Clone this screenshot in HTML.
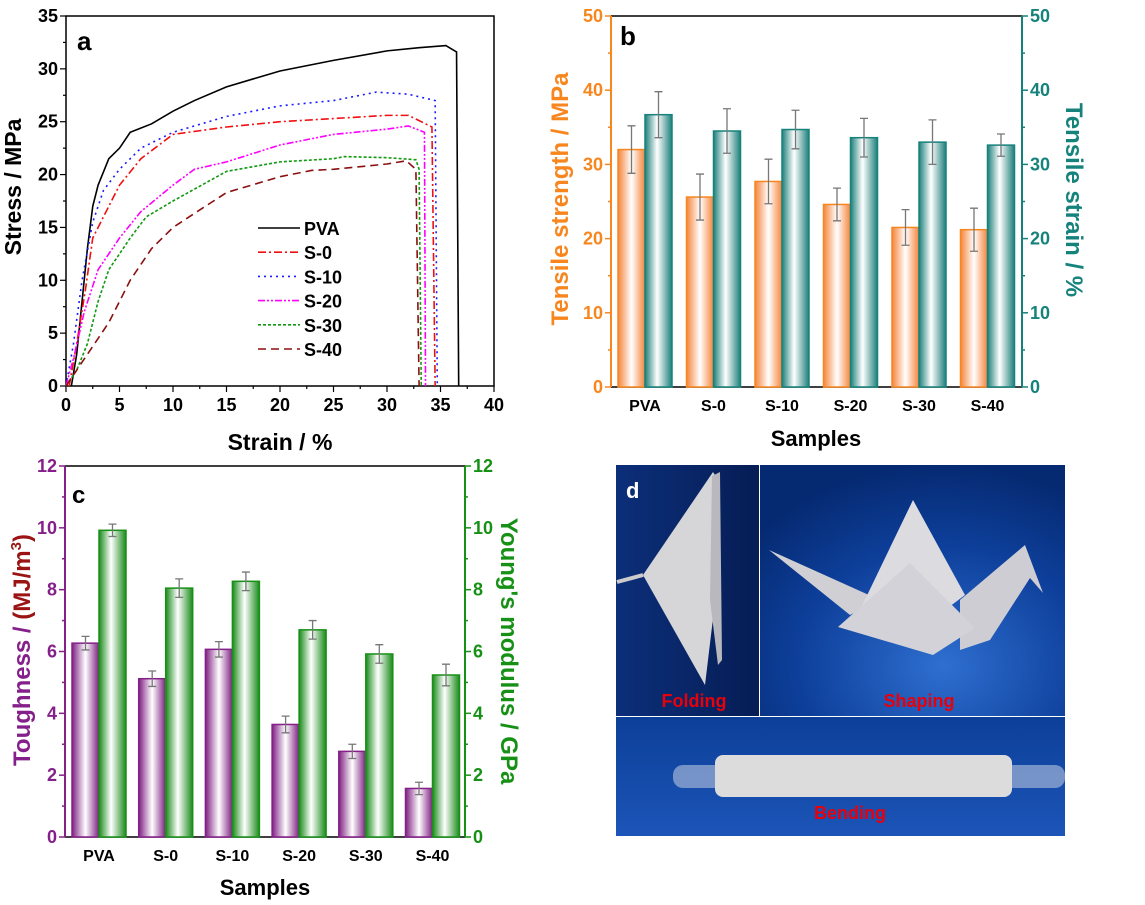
<!DOCTYPE html>
<html><head><meta charset="utf-8"><style>
html,body{margin:0;padding:0;background:#fff;}
svg{display:block;font-family:"Liberation Sans",Arial,sans-serif;}
</style></head><body>
<svg id="fig" width="1145" height="905" viewBox="0 0 1145 905" xmlns="http://www.w3.org/2000/svg">
<defs>
<linearGradient id="gOr" x1="0" x2="1" y1="0" y2="0"><stop offset="0" stop-color="#f5843a"/><stop offset="0.5" stop-color="#fff"/><stop offset="1" stop-color="#f5843a"/></linearGradient>
<linearGradient id="gTe" x1="0" x2="1" y1="0" y2="0"><stop offset="0" stop-color="#1d7f7a"/><stop offset="0.45" stop-color="#fff"/><stop offset="1" stop-color="#1d7f7a"/></linearGradient>
<linearGradient id="gPu" x1="0" x2="1" y1="0" y2="0"><stop offset="0" stop-color="#7e1f82"/><stop offset="0.5" stop-color="#fff"/><stop offset="1" stop-color="#7e1f82"/></linearGradient>
<linearGradient id="gGr" x1="0" x2="1" y1="0" y2="0"><stop offset="0" stop-color="#1a8a1a"/><stop offset="0.45" stop-color="#fff"/><stop offset="1" stop-color="#1a8a1a"/></linearGradient>
<radialGradient id="gBlue" cx="0.6" cy="0.8" r="0.8"><stop offset="0" stop-color="#2f6fd0"/><stop offset="0.6" stop-color="#0d3f9a"/><stop offset="1" stop-color="#062a72"/></radialGradient>
<linearGradient id="gBlue2" x1="0" x2="0" y1="0" y2="1"><stop offset="0" stop-color="#0c3f98"/><stop offset="1" stop-color="#1c55b8"/></linearGradient>
<linearGradient id="gFold" x1="0" x2="1" y1="0" y2="0"><stop offset="0" stop-color="#0c2f7a"/><stop offset="1" stop-color="#061d55"/></linearGradient>
</defs>
<g id="pa"></g>
<g id="pb"></g>
<g id="pc"></g>
<g id="pd">
  <rect x="616" y="465" width="143" height="251" fill="url(#gFold)"/>
  <polygon points="643,575 713,472 718,480 720,560 705,685" fill="#d6d6d8"/>
  <polygon points="712,476 720,472 722,660 718,665 710,600" fill="#b8b8be"/>
  <line x1="617" y1="582" x2="643" y2="575" stroke="#ccc" stroke-width="4"/>
  <rect x="760" y="465" width="305" height="251" fill="url(#gBlue)"/>
  <polygon points="769,550 880,600 850,615" fill="#cfcfd4"/>
  <polygon points="913,500 965,595 905,640 860,610" fill="#dcdce0"/>
  <polygon points="960,600 1025,545 1043,593 1030,578 990,640 960,650" fill="#cdcdd3"/>
  <polygon points="838,627 910,563 975,628 933,655" fill="#d2d2d8"/>
  <rect x="616" y="717" width="449" height="119" fill="url(#gBlue2)"/>
  <rect x="673" y="765" width="392" height="23" rx="10" fill="#9fb3d6" opacity="0.7"/>
  <rect x="715" y="755" width="297" height="42" rx="8" fill="#dcdcdc"/>
  <text x="626" y="498" font-size="22" font-weight="bold" fill="#fff">d</text>
  <text x="694" y="707" font-size="18" font-weight="bold" fill="#e8000a" text-anchor="middle">Folding</text>
  <text x="919" y="707" font-size="18" font-weight="bold" fill="#e8000a" text-anchor="middle">Shaping</text>
  <text x="850" y="819" font-size="18" font-weight="bold" fill="#e8000a" text-anchor="middle">Bending</text>
</g>
</svg>
<script>
// ---------- Panel a data ----------
const aSeriesNames = ["PVA","S-0","S-10","S-20","S-30","S-40"];
const aPVA  = [[0.5,0],[1,3],[1.5,8],[2,13],[2.5,17],[3,19],[4,21.5],[5,22.5],[6,24],[8,24.8],[10,26],[12,27],[15,28.3],[20,29.8],[25,30.8],[30,31.7],[33,32],[35.5,32.2],[36.5,31.6],[36.7,0]];
const aS0   = [[0.3,0],[1,4],[1.8,9],[2.5,14],[4,17],[5,19],[7,21.5],[10,23.8],[15,24.5],[20,25],[25,25.3],[30,25.6],[32,25.6],[34.2,24.5],[34.5,0]];
const aS10  = [[0,0],[0.7,4],[1.5,10],[2.5,15.5],[3.5,18.5],[5,20.5],[7,22.5],[10,24],[15,25.5],[20,26.5],[25,27],[29,27.8],[32,27.6],[34.5,27],[34.7,0]];
const aS20  = [[0,0],[0.8,3],[1.7,7],[3,11],[5,14],[7,16.5],[10,19],[12,20.5],[15,21.2],[20,22.8],[25,23.8],[30,24.3],[32,24.6],[33.5,24],[33.6,0]];
const aS30  = [[0,0],[1,1.5],[2,4],[3,8],[4,11],[6,14],[7.5,16],[10,17.5],[15,20.3],[20,21.2],[25,21.5],[26,21.7],[30,21.6],[32.7,21.4],[33,20.5],[33.2,0]];
const aS40  = [[0,0],[1,1.5],[2,3],[4,6],[6,10],[8,13],[10,15],[15,18.3],[20,19.8],[23,20.4],[25,20.5],[30,21],[31.8,21.3],[32.7,20.5],[33,0]];
const aXTicks = [0,5,10,15,20,25,30,35,40];
const aYTicks = [0,5,10,15,20,25,30,35];
// ---------- Panel b data ----------
const bCategories = ["PVA","S-0","S-10","S-20","S-30","S-40"];
const bStrength = [32,25.6,27.7,24.6,21.5,21.2];
const bStrengthErr = [3.2,3.1,3.0,2.2,2.4,2.9];
const bStrain = [36.7,34.5,34.7,33.6,33,32.6];
const bStrainErr = [3.1,3.0,2.6,2.6,3.0,1.5];
const bTicks = [0,10,20,30,40,50];
// ---------- Panel c data ----------
const cCategories = ["PVA","S-0","S-10","S-20","S-30","S-40"];
const cToughness = [6.27,5.12,6.07,3.64,2.77,1.57];
const cToughnessErr = [0.22,0.25,0.25,0.27,0.23,0.2];
const cModulus = [9.92,8.05,8.27,6.7,5.92,5.24];
const cModulusErr = [0.2,0.3,0.3,0.3,0.3,0.35];
const cTicks = [0,2,4,6,8,10,12];

const NS="http://www.w3.org/2000/svg";
function mk(parent,tag,attrs,text){const e=document.createElementNS(NS,tag);for(const k in attrs)e.setAttribute(k,attrs[k]);if(text!==undefined)e.textContent=text;parent.appendChild(e);return e;}

// ===== Panel a =====
(function(){
const g=document.getElementById('pa');
const L=66,R=494,T=16,B=386;
const xs=v=>L+(v/40)*(R-L), ys=v=>B-(v/35)*(B-T);
let fr=mk(g,'rect',{x:L,y:T,width:R-L,height:B-T,fill:'none',stroke:'#000','stroke-width':1.5});


for(let v=0;v<=40;v+=2.5){const big=v%5===0;mk(g,'line',{x1:xs(v),x2:xs(v),y1:B,y2:B+(big?6:3),stroke:'#000','stroke-width':1.2});}
for(let v=0;v<=35;v+=2.5){const big=v%5===0;mk(g,'line',{x1:L,x2:L-(big?6:3),y1:ys(v),y2:ys(v),stroke:'#000','stroke-width':1.2});}
aXTicks.forEach(v=>{const t=mk(g,'text',{x:xs(v),y:B+25,'font-size':18,'text-anchor':'middle','font-weight':'bold'},v);});
aYTicks.forEach(v=>{const t=mk(g,'text',{x:L-8,y:ys(v)+6,'font-size':18,'text-anchor':'end','font-weight':'bold'},v);});
let t=mk(g,'text',{x:280,y:450,'font-size':23,'font-weight':'bold','text-anchor':'middle'},'Strain / %');

t=mk(g,'text',{x:21,y:187,'font-size':23,'font-weight':'bold','text-anchor':'middle',transform:'rotate(-90 21 187)'},'Stress / MPa');

t=mk(g,'text',{x:77,y:50,'font-size':26,'font-weight':'bold'},'a');

const series=[aPVA,aS0,aS10,aS20,aS30,aS40];
const colors=['#000','#f01010','#1a1aff','#ff00ff','#119911','#8b0f0f'];
const dashes=['none','8 3 2 3','2 4','7 2 2 2 2 2','3 2','8 5'];
series.forEach((s,i)=>{
  const p=mk(g,'polyline',{points:s.map(d=>xs(d[0])+','+ys(d[1])).join(' '),fill:'none',stroke:colors[i],'stroke-width':1.6,'stroke-dasharray':dashes[i]});
  
  
  const ly=228+i*24.2;
  const l=mk(g,'line',{x1:258,x2:300,y1:ly,y2:ly,stroke:colors[i],'stroke-width':1.6,'stroke-dasharray':dashes[i]});
  
  const lt=mk(g,'text',{x:304,y:ly+7,'font-size':18,'font-weight':'bold'},aSeriesNames[i]);
  
});
})();

// ===== bar panel helper =====
function barPanel(g,o){
  const ys1=v=>o.B-(v/o.max1)*(o.B-o.T), ys2=v=>o.B-(v/o.max2)*(o.B-o.T);
  mk(g,'line',{x1:o.L,x2:o.R,y1:o.T,y2:o.T,stroke:'#000','stroke-width':1.5});
  mk(g,'line',{x1:o.L,x2:o.R,y1:o.B,y2:o.B,stroke:'#000','stroke-width':1.5});
  o.cats.forEach((c,i)=>{
    const cx=o.c0+i*o.step;
    const b1=mk(g,'rect',{x:cx-o.bw,y:ys1(o.v1[i]),width:o.bw,height:o.B-ys1(o.v1[i]),fill:o.f1,stroke:o.c1,'stroke-width':1.5});
    
    const b2=mk(g,'rect',{x:cx,y:ys2(o.v2[i]),width:o.bw,height:o.B-ys2(o.v2[i]),fill:o.f2,stroke:o.c2,'stroke-width':1.5});
    
    [[cx-o.bw/2,o.v1[i],o.e1[i],ys1],[cx+o.bw/2,o.v2[i],o.e2[i],ys2]].forEach(a=>{
      const x=a[0],yt=a[3](a[1]+a[2]),yb=a[3](a[1]-a[2]);
      const eb=mk(g,'path',{d:`M${x},${yt}V${yb}M${x-4},${yt}H${x+4}M${x-4},${yb}H${x+4}`,stroke:'#777','stroke-width':1.3,fill:'none'});
      
    });
    const tl=mk(g,'text',{x:cx,y:o.B+24,'font-size':16,'font-weight':'bold','text-anchor':'middle'},c);
    
  });
  mk(g,'line',{x1:o.L,x2:o.L,y1:o.T,y2:o.B,stroke:o.c1,'stroke-width':2});
  mk(g,'line',{x1:o.R,x2:o.R,y1:o.T,y2:o.B,stroke:o.c2,'stroke-width':2});
  const minor=o.ticks[1]/2;
  for(let v=0;v<=o.max1+1e-9;v+=minor){const big=Math.abs(v/o.ticks[1]-Math.round(v/o.ticks[1]))<1e-6;
    mk(g,'line',{x1:o.L,x2:o.L-(big?6:3),y1:ys1(v),y2:ys1(v),stroke:o.c1,'stroke-width':1.5});
    mk(g,'line',{x1:o.R,x2:o.R+(big?6:3),y1:ys1(v),y2:ys1(v),stroke:o.c2,'stroke-width':1.5});}
  o.ticks.forEach(v=>{
    let t=mk(g,'text',{x:o.L-8,y:ys1(v)+6,'font-size':18,'font-weight':'bold','text-anchor':'end',fill:o.c1},v);
    
    t=mk(g,'text',{x:o.R+8,y:ys1(v)+6,'font-size':18,'font-weight':'bold','text-anchor':'start',fill:o.c2},v);
    
  });
}

// ===== Panel b =====
(function(){
const g=document.getElementById('pb');
barPanel(g,{L:611,R:1022,T:16,B:387,max1:50,max2:50,ticks:bTicks,cats:bCategories,c0:645,step:68.5,bw:27,
  v1:bStrength,e1:bStrengthErr,v2:bStrain,e2:bStrainErr,f1:'url(#gOr)',f2:'url(#gTe)',c1:'#f7861e',c2:'#15827c',n1:'strength',n2:'strain'});
let t=mk(g,'text',{x:816,y:446,'font-size':22,'font-weight':'bold','text-anchor':'middle'},'Samples');

t=mk(g,'text',{x:568,y:199,'font-size':24,'font-weight':'bold','text-anchor':'middle',fill:'#f7861e',transform:'rotate(-90 568 199)'},'Tensile strength / MPa');

t=mk(g,'text',{x:1066,y:200,'font-size':24,'font-weight':'bold','text-anchor':'middle',fill:'#15827c',transform:'rotate(90 1066 200)'},'Tensile strain / %');

t=mk(g,'text',{x:620,y:45,'font-size':26,'font-weight':'bold'},'b');

})();

// ===== Panel c =====
(function(){
const g=document.getElementById('pc');
barPanel(g,{L:65,R:465,T:466,B:837,max1:12,max2:12,ticks:cTicks,cats:cCategories,c0:99,step:66.7,bw:27,
  v1:cToughness,e1:cToughnessErr,v2:cModulus,e2:cModulusErr,f1:'url(#gPu)',f2:'url(#gGr)',c1:'#85208a',c2:'#169116',n1:'toughness',n2:'modulus'});
let t=mk(g,'text',{x:265,y:895,'font-size':22,'font-weight':'bold','text-anchor':'middle'},'Samples');

t=mk(g,'text',{x:30,y:650,'font-size':24,'font-weight':'bold','text-anchor':'middle',fill:'#85208a',transform:'rotate(-90 30 650)'});

mk(t,'tspan',{},'Toughness / ');
mk(t,'tspan',{fill:'#9a1414'},'(MJ/m');
mk(t,'tspan',{fill:'#9a1414','font-size':15,dy:-9},'3');
mk(t,'tspan',{fill:'#9a1414',dy:9},')');
t=mk(g,'text',{x:501,y:651,'font-size':24,'font-weight':'bold','text-anchor':'middle',fill:'#169116',transform:'rotate(90 501 651)'},"Young's modulus / GPa");

t=mk(g,'text',{x:72,y:503,'font-size':24,'font-weight':'bold'},'c');

})();
</script>
</body></html>
